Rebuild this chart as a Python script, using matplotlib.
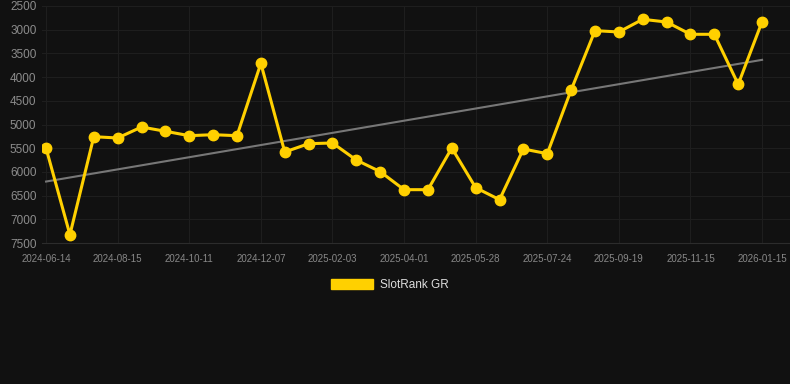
import matplotlib.pyplot as plt
import numpy as np

plt.rcParams['font.family'] = ['Liberation Sans', 'DejaVu Sans']

tick_labels = ["2024-06-14", "2024-08-15", "2024-10-11", "2024-12-07", "2025-02-03",
               "2025-04-01", "2025-05-28", "2025-07-24", "2025-09-19", "2025-11-15",
               "2026-01-15"]
rank = [5500, 7325, 5257, 5285, 5053, 5143, 5236, 5215, 5236, 3710,
        5580, 5405, 5390, 5750, 5995, 6375, 6375, 5496, 6333, 6586,
        5517, 5615, 4272, 3020, 3048, 2781, 2838, 3097, 3097, 4152,
        2831]

x = np.arange(len(rank))
# linear trend over the series
coef = np.polyfit(x, rank, 1)
trend = np.polyval(coef, x)

fig = plt.figure(figsize=(7.9, 3.84), dpi=100)
fig.patch.set_facecolor("#111111")
ax = fig.add_axes([42 / 790, 1 - 243 / 384, 748 / 790, 237 / 384])
ax.set_facecolor("#111111")

ax.plot(x, trend, color="#777777", lw=1.5, zorder=2)
ax.plot(x, rank, color="#FFD000", lw=2.2, marker="o", markersize=7.5, zorder=3,
        label="SlotRank GR")

ax.set_ylim(7500, 2500)
ax.set_yticks(np.arange(2500, 7501, 500))
ax.set_xlim(-0.17, 31.17)
ax.set_xticks(x[::3])
ax.set_xticklabels(tick_labels)

ax.grid(True, color="#1e1e1e", lw=0.8)
for s in ["top", "right", "left"]:
    ax.spines[s].set_visible(False)
ax.spines["bottom"].set_color("#2c2c2c")
ax.tick_params(axis="y", length=0, colors="#8c8c8c", labelsize=8.5, pad=4)
ax.tick_params(axis="x", length=0, colors="#888888", labelsize=7, pad=8)

leg = fig.legend(handles=[plt.Rectangle((0, 0), 1, 1, color="#FFD000")],
                 labels=["SlotRank GR"], loc="center", bbox_to_anchor=(390 / 790, 1 - 285 / 384),
                 frameon=False, handlelength=3.6, handleheight=1.0, fontsize=8.5,
                 labelcolor="#dddddd", handletextpad=0.6)

fig.savefig("out.png", dpi=100, facecolor=fig.get_facecolor())
